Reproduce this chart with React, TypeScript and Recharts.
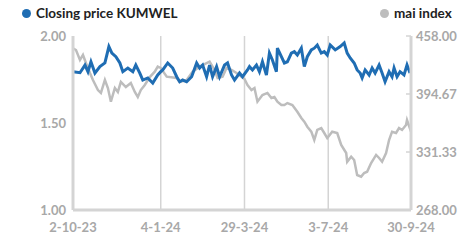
import React from "react";
import { LineChart, Line, XAxis, YAxis, CartesianGrid } from "recharts";

// trading-day offset, closing price (THB)
const closingPrice: [number, number][] = [
  [0,1.795],[7,1.789],[12,1.833],[15,1.795],[18,1.852],[22,1.787],[27,1.824],[32,1.845],[36,1.939],[39,1.902],
  [43,1.881],[47,1.845],[50,1.795],[55,1.816],[60,1.795],[63,1.833],[67,1.787],[70,1.747],[75,1.759],[80,1.730],
  [85,1.776],[88,1.795],[90,1.805],[95,1.845],[100,1.816],[104,1.766],[107,1.737],[110,1.747],[114,1.737],[119,1.766],
  [124,1.845],[127,1.816],[130,1.833],[134,1.766],[137,1.833],[140,1.766],[144,1.824],[147,1.766],[152,1.833],[155,1.845],
  [159,1.776],[162,1.747],[167,1.787],[170,1.766],[175,1.805],[177,1.824],[180,1.805],[184,1.833],[187,1.795],[190,1.852],
  [194,1.776],[197,1.902],[200,1.862],[204,1.795],[205,1.930],[209,1.881],[212,1.845],[215,1.852],[219,1.902],[222,1.910],
  [225,1.891],[229,1.930],[232,1.824],[235,1.881],[239,1.920],[242,1.930],[245,1.948],[249,1.902],[252,1.910],[255,1.891],
  [258,1.948],[263,1.920],[268,1.939],[272,1.960],[275,1.902],[278,1.874],[282,1.845],[285,1.805],[288,1.787],[290,1.759],
  [293,1.805],[297,1.776],[300,1.816],[303,1.787],[307,1.833],[310,1.787],[313,1.737],[317,1.795],[320,1.766],[322,1.816],
  [325,1.766],[328,1.795],[332,1.776],[335,1.833],[338,1.787],
];

// trading-day offset, mai index
const maiIndex: [number, number][] = [
  [0,444.6],[3,442.7],[7,431.8],[10,437.3],[13,428.5],[17,417.6],[20,410.0],[25,399.0],[28,395.8],[32,410.0],
  [35,401.2],[38,386.3],[42,401.2],[45,396.9],[48,407.8],[53,402.3],[58,406.7],[62,396.9],[65,391.4],[68,399.0],
  [72,404.5],[77,413.2],[82,419.0],[85,424.5],[88,423.1],[94,413.6],[104,412.1],[107,407.8],[114,410.0],[120,419.0],
  [127,424.5],[137,429.9],[142,420.9],[145,412.1],[150,413.6],[154,423.1],[159,420.9],[164,417.6],[169,413.6],[172,411.0],
  [175,404.5],[179,399.0],[182,401.2],[185,386.3],[190,393.6],[195,395.8],[199,390.3],[202,391.4],[205,386.3],[209,382.7],
  [212,382.7],[215,384.8],[220,382.7],[225,375.3],[229,368.5],[232,364.4],[235,359.0],[239,353.5],[242,344.4],[245,355.4],
  [249,357.5],[252,352.1],[255,346.6],[260,353.5],[265,352.1],[269,339.0],[274,330.2],[275,320.7],[279,326.2],[282,322.6],
  [285,306.2],[289,304.4],[292,308.4],[295,309.8],[299,319.3],[304,328.1],[307,324.8],[310,320.7],[314,330.2],[317,344.4],
  [320,353.5],[324,352.1],[327,357.5],[330,355.4],[334,360.8],[335,366.3],[339,353.5],
];

const xTickDays = [0, 88, 172, 256, 339];
const xTickLabels = ["2-10-23", "4-1-24", "29-3-24", "3-7-24", "30-9-24"];
const leftTicks = [1.0, 1.5, 2.0];
const rightTicks = [268.0, 331.33, 394.67, 458.0];

const closingData = closingPrice.map(([d, v]) => ({ d, v }));
const maiData = maiIndex.map(([d, v]) => ({ d, v }));

const FONT = "Lato, 'Noto Sans', sans-serif";
const TICK_COLOR = "#a8a8a8";
const AXIS_COLOR = "#d4d4d4";

const RightTick = (props: any) => {
  const { x, y, payload } = props;
  const axisX = x - 5;
  return (
    <g>
      <line x1={axisX - 5} x2={axisX} y1={y} y2={y} stroke={AXIS_COLOR} strokeWidth={1.5} />
      <text x={x} y={y} dy="0.355em" textAnchor="start" fill={TICK_COLOR} fontSize={13} fontWeight={700} fontFamily={FONT}>
        {Number(payload.value).toFixed(2)}
      </text>
    </g>
  );
};

export default function App() {
  return (
    <div style={{ position: "absolute", left: 0, top: 0, width: 473, height: 240, background: "#fff", fontFamily: FONT }}>
      <div style={{ position: "absolute", left: 22, top: 5, display: "flex", alignItems: "center", fontSize: 13.5, fontWeight: 700, color: "#222" }}>
        <span style={{ width: 9, height: 9, borderRadius: "50%", background: "#1f6db3", display: "inline-block", marginRight: 5 }} />
        Closing price KUMWEL
      </div>
      <div style={{ position: "absolute", left: 380, top: 5, display: "flex", alignItems: "center", fontSize: 13.5, fontWeight: 700, color: "#222" }}>
        <span style={{ width: 9, height: 9, borderRadius: "50%", background: "#bdbdbd", display: "inline-block", marginRight: 5 }} />
        mai index
      </div>
      <LineChart width={473} height={240} margin={{ top: 36, right: 0, left: 0, bottom: 0 }}>
        <CartesianGrid horizontal={false} vertical={true} stroke={AXIS_COLOR} strokeWidth={1.5} verticalValues={xTickDays} />
        <XAxis
          dataKey="d"
          type="number"
          domain={[0, 339]}
          ticks={xTickDays}
          tickFormatter={(v: number) => xTickLabels[xTickDays.indexOf(v)] ?? ""}
          height={30}
          tickSize={0}
          tickMargin={13}
          axisLine={{ stroke: AXIS_COLOR, strokeWidth: 3 }}
          tick={{ fill: TICK_COLOR, fontSize: 13, fontWeight: 700, fontFamily: FONT }}
          interval={0}
          allowDataOverflow
        />
        <YAxis
          yAxisId="left"
          orientation="left"
          width={73}
          domain={[1, 2]}
          ticks={leftTicks}
          tickFormatter={(v: number) => v.toFixed(2)}
          tickSize={0}
          tickMargin={7}
          axisLine={{ stroke: AXIS_COLOR, strokeWidth: 3 }}
          tick={{ fill: TICK_COLOR, fontSize: 13, fontWeight: 700, fontFamily: FONT }}
          interval={0}
          allowDataOverflow
        />
        <YAxis
          yAxisId="right"
          orientation="right"
          width={62}
          domain={[268, 458]}
          ticks={rightTicks}
          tickSize={0}
          tickMargin={5}
          tickLine={false}
          axisLine={{ stroke: AXIS_COLOR, strokeWidth: 3 }}
          tick={<RightTick />}
          interval={0}
          allowDataOverflow
        />
        <Line
          yAxisId="right"
          data={maiData}
          dataKey="v"
          type="linear"
          stroke="#bdbdbd"
          strokeWidth={2.5}
          dot={false}
          isAnimationActive={false}
        />
        <Line
          yAxisId="left"
          data={closingData}
          dataKey="v"
          type="linear"
          stroke="#1f6db3"
          strokeWidth={3}
          dot={false}
          isAnimationActive={false}
        />
      </LineChart>
    </div>
  );
}
